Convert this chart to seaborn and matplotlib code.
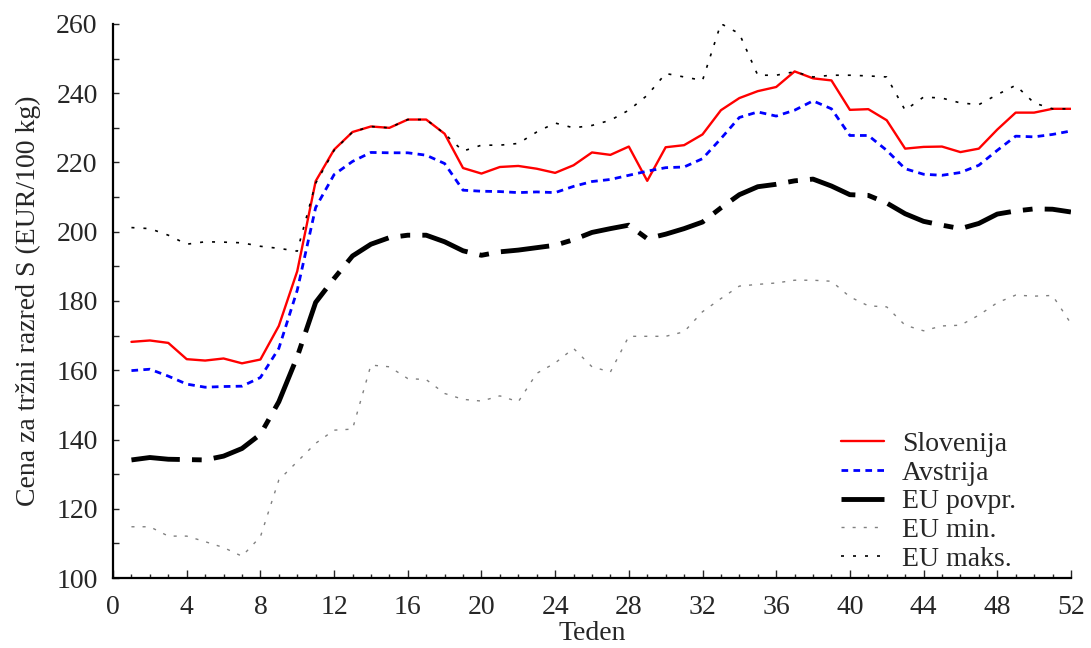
import matplotlib
matplotlib.use("Agg")
import matplotlib.pyplot as plt
from matplotlib.ticker import MultipleLocator
import seaborn as sns
import pandas as pd

# tedni 1..52
weeks = list(range(1, 53))

slovenija = [168.2, 168.6, 167.9, 163.2, 162.8, 163.4, 162.0, 163.1, 172.8, 188.6,
             214.6, 223.7, 228.8, 230.4, 230.0, 232.4, 232.4, 228.3, 218.4, 216.8,
             218.7, 219.0, 218.2, 217.0, 219.2, 222.9, 222.2, 224.6, 214.7, 224.4,
             225.0, 228.1, 235.1, 238.6, 240.6, 241.8, 246.3, 244.3, 243.7, 235.2,
             235.4, 232.2, 224.0, 224.5, 224.6, 223.0, 224.0, 229.5, 234.4, 234.4,
             235.5, 235.5]

avstrija = [159.9, 160.3, 158.3, 156.0, 155.1, 155.3, 155.4, 157.9, 166.3, 183.1,
            207.0, 216.5, 220.3, 222.9, 222.8, 222.8, 222.1, 219.7, 212.0, 211.7,
            211.6, 211.3, 211.5, 211.3, 213.1, 214.5, 215.1, 216.3, 217.5, 218.5,
            218.7, 221.1, 226.9, 233.0, 234.6, 233.4, 235.1, 237.8, 235.5, 227.8,
            227.8, 223.5, 218.2, 216.6, 216.3, 217.1, 219.2, 223.5, 227.6, 227.4,
            228.1, 229.1]

eu_povpr = [134.1, 134.8, 134.3, 134.2, 134.1, 135.2, 137.4, 141.5, 150.9, 163.9,
            179.6, 186.5, 193.0, 196.4, 198.3, 199.0, 199.0, 197.1, 194.5, 193.2,
            194.2, 194.7, 195.4, 196.1, 197.7, 199.8, 200.9, 201.9, 198.0, 199.3,
            200.9, 202.8, 206.9, 210.7, 213.0, 213.7, 214.7, 215.2, 213.2, 210.7,
            210.5, 208.3, 205.2, 203.0, 201.9, 200.9, 202.4, 205.1, 206.0, 206.6,
            206.5, 205.7]

eu_min = [114.8, 114.8, 112.1, 112.1, 110.5, 108.8, 106.3, 111.9, 128.3, 133.6,
          138.9, 142.7, 143.0, 161.5, 161.0, 157.6, 157.3, 153.3, 151.6, 151.1,
          152.6, 150.9, 159.1, 162.1, 166.3, 161.0, 159.5, 169.8, 169.8, 169.8,
          171.1, 176.9, 180.7, 184.3, 184.8, 185.2, 186.0, 186.0, 185.7, 181.2,
          178.6, 178.3, 173.0, 171.4, 172.8, 173.0, 175.9, 179.5, 181.7, 181.4,
          181.6, 173.5]

eu_maks = [201.2, 200.9, 199.0, 196.4, 197.1, 197.0, 196.8, 195.8, 195.2, 194.4,
           214.0, 223.5, 228.8, 230.4, 230.0, 232.4, 232.4, 228.3, 223.3, 225.0,
           225.0, 225.5, 228.8, 231.4, 230.0, 230.7, 232.2, 235.1, 239.4, 245.7,
           244.7, 243.7, 260.1, 257.2, 245.2, 245.2, 246.2, 244.7, 245.2, 245.2,
           245.0, 244.7, 235.1, 238.9, 238.6, 237.2, 236.7, 239.6, 242.3, 237.2,
           235.5, 235.5]

df = pd.DataFrame({
    'Teden': weeks,
    'Slovenija': slovenija,
    'Avstrija': avstrija,
    'EU povpr.': eu_povpr,
    'EU min.': eu_min,
    'EU maks.': eu_maks,
})

sns.set_style("ticks")
plt.rcParams['font.family'] = ['Liberation Serif', 'DejaVu Serif']
plt.rcParams['font.size'] = 20

fig = plt.figure(figsize=(10.91, 6.48), dpi=100)
ax = fig.add_axes([0.1036, 0.108, 0.878, 0.855])

# slog crt za vsako serijo
styles = {
    'Slovenija': dict(color='#ff0000', lw=1.7, ls='-'),
    'Avstrija': dict(color='#0000ff', lw=2.0, ls=(0, (2.4, 1.9))),
    'EU povpr.': dict(color='black', lw=3.5, ls=(0, (10, 2.5, 2, 2.5))),
    'EU min.': dict(color='#808080', lw=1.0, ls=(0, (2.2, 5.8))),
    'EU maks.': dict(color='black', lw=1.2, ls=(0, (1.8, 5.4))),
}

for name, st in styles.items():
    sns.lineplot(data=df, x='Teden', y=name, ax=ax, color=st['color'],
                 linewidth=st['lw'], linestyle=st['ls'], label=name)

ax.set_xlim(0, 52)
ax.set_ylim(100, 260)
ax.xaxis.set_major_locator(MultipleLocator(4))
ax.xaxis.set_minor_locator(MultipleLocator(1))
ax.yaxis.set_major_locator(MultipleLocator(20))
ax.yaxis.set_minor_locator(MultipleLocator(10))

ax.tick_params(axis='x', which='major', direction='in', length=6, width=1, pad=12, labelsize=20)
ax.tick_params(axis='x', which='minor', direction='in', length=3, width=1)
ax.tick_params(axis='y', which='major', direction='in', length=4, width=1, pad=11, labelsize=20)
ax.tick_params(axis='y', which='minor', direction='in', length=4, width=1)

sns.despine(ax=ax)
for sp in ['left', 'bottom']:
    ax.spines[sp].set_linewidth(1.6)
    ax.spines[sp].set_color('black')

ax.set_xlabel('Teden', fontsize=20, labelpad=1)
ax.set_ylabel('Cena za tržni razred S (EUR/100 kg)', fontsize=20, labelpad=11)

leg = ax.legend(loc='lower left', bbox_to_anchor=(0.76, 0.011), frameon=False,
                fontsize=20, handlelength=1.55, handletextpad=0.65,
                labelspacing=0.12, borderpad=0, borderaxespad=0)

fig.savefig('out.png', dpi=100)
